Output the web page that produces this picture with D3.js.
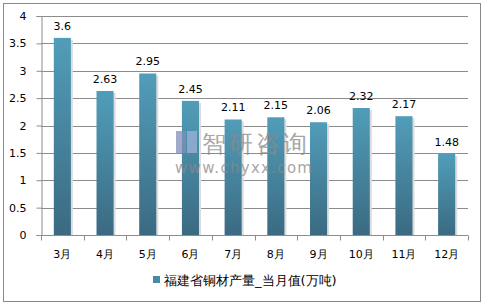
<!DOCTYPE html>
<html>
<head>
<meta charset="utf-8">
<script src="https://cdn.jsdelivr.net/npm/d3@7"></script>
<style>
  body { margin: 0; background: #fff; }
  text { font-family: "DejaVu Sans", Verdana, sans-serif; }
</style>
</head>
<body>
<div id="chart"></div>
<script>
// data
var months = ["3月", "4月", "5月", "6月", "7月", "8月", "9月", "10月", "11月", "12月"];
var values = [3.6, 2.63, 2.95, 2.45, 2.11, 2.15, 2.06, 2.32, 2.17, 1.48];
var yTicks = [0, 0.5, 1, 1.5, 2, 2.5, 3, 3.5, 4];
var seriesName = "福建省铜材产量_当月值(万吨)";

var W = 488, H = 305;
var margin = {top: 16, right: 20, bottom: 70, left: 41};
var width = 468 - margin.left;
var height = 235 - margin.top;

var svg = d3.select("#chart")
  .append("svg")
    .attr("width", W)
    .attr("height", H);

// outer frame
svg.append("rect")
    .attr("x", 3.5).attr("y", 3.5)
    .attr("width", 477).attr("height", 298)
    .attr("fill", "none")
    .attr("stroke", "#888")
    .attr("stroke-width", 1);

var defs = svg.append("defs");
var grad = defs.append("linearGradient")
    .attr("id", "barGrad")
    .attr("x1", 0).attr("y1", 0).attr("x2", 0).attr("y2", 1);
grad.append("stop").attr("offset", "0%").attr("stop-color", "#519db9");
grad.append("stop").attr("offset", "100%").attr("stop-color", "#3b6a82");

var g = svg.append("g")
    .attr("transform", "translate(" + margin.left + "," + margin.top + ")");

var x = d3.scaleBand()
    .domain(months)
    .range([0, width])
    .paddingInner(0.6)
    .paddingOuter(0.3);

var y = d3.scaleLinear()
    .domain([0, 4])
    .range([height, 0]);

// grid lines
g.append("g")
  .selectAll("line")
  .data(yTicks.slice(1))
  .enter()
  .append("line")
    .attr("x1", 0).attr("x2", width)
    .attr("y1", function(d) { return Math.round(y(d)) + 0.5; })
    .attr("y2", function(d) { return Math.round(y(d)) + 0.5; })
    .attr("stroke", "#8c8c8c")
    .attr("stroke-width", 1);

// y axis
var yAxis = g.append("g")
    .attr("transform", "translate(0.5,0)")
    .call(d3.axisLeft(y).tickValues(yTicks).tickSize(5).tickFormat(function(d) { return d; }));
yAxis.select(".domain").attr("stroke", "#8c8c8c");
yAxis.selectAll(".tick line").attr("stroke", "#8c8c8c");
yAxis.selectAll("text")
    .attr("font-size", "11px")
    .attr("fill", "#000")
    .attr("x", -15)
    .attr("font-family", "DejaVu Sans, Verdana, sans-serif");

// x axis
var xAxis = g.append("g")
    .attr("transform", "translate(0," + (height + 0.5) + ")");
xAxis.append("line")
    .attr("x1", 0).attr("x2", width)
    .attr("stroke", "#8c8c8c");
xAxis.selectAll("line.tk")
  .data(d3.range(months.length + 1))
  .enter()
  .append("line")
    .attr("class", "tk")
    .attr("x1", function(i) { return Math.round(i * width / months.length) + 0.5; })
    .attr("x2", function(i) { return Math.round(i * width / months.length) + 0.5; })
    .attr("y1", 0).attr("y2", 5)
    .attr("stroke", "#8c8c8c");
xAxis.selectAll("text")
  .data(months)
  .enter()
  .append("text")
    .attr("x", function(d) { return x(d) + x.bandwidth() / 2; })
    .attr("y", 22)
    .attr("text-anchor", "middle")
    .attr("font-size", "11px")
    .attr("fill", "#000")
    .text(function(d) { return d; });

// bar shadows
g.append("g")
  .selectAll("rect")
  .data(values)
  .enter()
  .append("rect")
    .attr("x", function(d, i) { return x(months[i]) + 2; })
    .attr("y", function(d) { return y(d) + 2; })
    .attr("width", x.bandwidth())
    .attr("height", function(d) { return height - y(d) - 2; })
    .attr("fill", "#dcdcdc");

// bars
g.append("g")
  .selectAll("rect")
  .data(values)
  .enter()
  .append("rect")
    .attr("x", function(d, i) { return x(months[i]); })
    .attr("y", function(d) { return y(d); })
    .attr("width", x.bandwidth())
    .attr("height", function(d) { return height - y(d); })
    .attr("fill", "url(#barGrad)");

// value labels
g.append("g")
  .selectAll("text")
  .data(values)
  .enter()
  .append("text")
    .attr("x", function(d, i) { return x(months[i]) + x.bandwidth() / 2; })
    .attr("y", function(d) { return y(d) - 8; })
    .attr("text-anchor", "middle")
    .attr("font-size", "11px")
    .attr("fill", "#000")
    .text(function(d) { return d; });

// watermark
var wm = svg.append("g").attr("opacity", 0.75);
wm.append("rect")
    .attr("x", 176).attr("y", 131).attr("width", 10).attr("height", 22)
    .attr("fill", "#7f8fb8");
wm.append("rect")
    .attr("x", 187).attr("y", 131).attr("width", 10).attr("height", 22)
    .attr("fill", "#9fb3d8");
wm.append("text")
    .attr("x", 202).attr("y", 152)
    .attr("font-size", "24px")
    .attr("fill", "#8a8a8a")
    .attr("font-family", "Noto Sans CJK SC, sans-serif")
    .attr("letter-spacing", "3px")
    .text("智研咨询");
wm.append("text")
    .attr("x", 175).attr("y", 173)
    .attr("font-size", "15px")
    .attr("fill", "#8a8a8a")
    .attr("letter-spacing", "1.3px")
    .text("www.chyxx.com");

// legend
var lg = svg.append("g").attr("transform", "translate(153,276)");
lg.append("rect")
    .attr("x", 0).attr("y", 0)
    .attr("width", 7).attr("height", 7)
    .attr("fill", "#4a88a3");
lg.append("text")
    .attr("x", 11).attr("y", 9)
    .attr("font-size", "13px")
    .attr("fill", "#000")
    .attr("font-family", "Noto Sans CJK SC, sans-serif")
    .text(seriesName);
</script>
</body>
</html>
